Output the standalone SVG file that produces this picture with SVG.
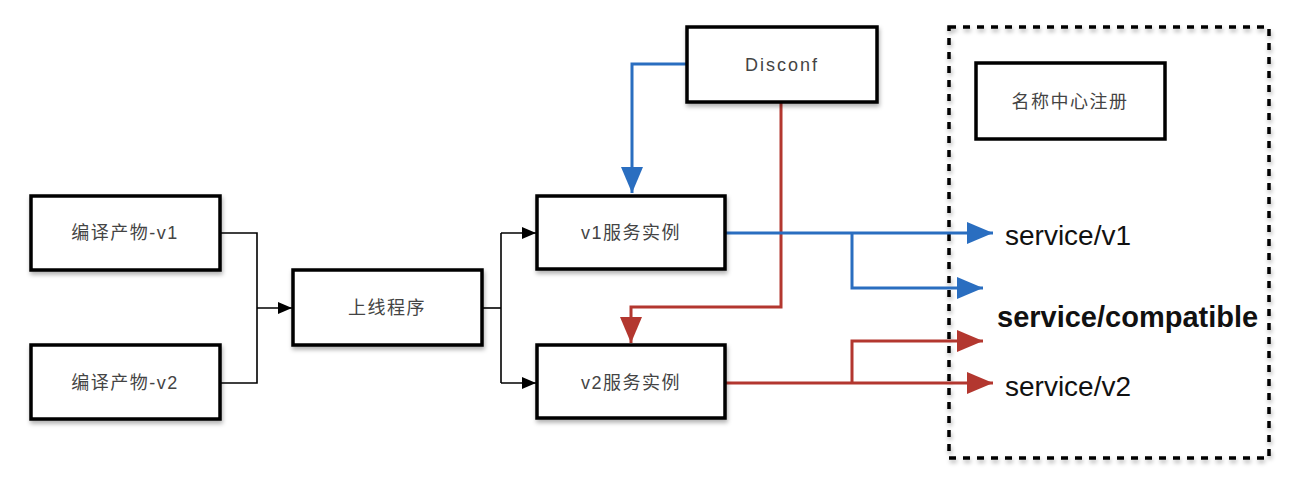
<svg xmlns="http://www.w3.org/2000/svg" width="1300" height="493" viewBox="0 0 1300 493">
<style>
.box{fill:#fff;stroke:#000;stroke-width:3.5;filter:url(#sh)}
.lbl{font-family:"Liberation Sans","Noto Sans CJK SC",sans-serif;font-size:18px;letter-spacing:1.5px;fill:#444;text-anchor:middle;dominant-baseline:central}
.blk{fill:none;stroke:#000;stroke-width:1.6}
.blue{fill:none;stroke:#2A6EC0;stroke-width:3}
.red{fill:none;stroke:#B3372F;stroke-width:3}
.svc{font-family:"Liberation Sans",Arial,sans-serif;font-size:28px;fill:#111}
.cmp{font-size:29px;font-weight:bold}
</style>
<defs>
<filter id="sh" x="-10%" y="-10%" width="130%" height="140%">
<feDropShadow dx="1" dy="3" stdDeviation="2" flood-color="#000" flood-opacity="0.3"/>
</filter>
<marker id="ak" markerUnits="userSpaceOnUse" markerWidth="16" markerHeight="14" refX="14" refY="6" orient="auto">
<path d="M0,0 L14,6 L0,12 Z" fill="#000"/>
</marker>
<marker id="ab" markerUnits="userSpaceOnUse" markerWidth="28" markerHeight="24" refX="26" refY="11" orient="auto">
<path d="M0,0 L26,11 L0,22 Z" fill="#2A6EC0"/>
</marker>
<marker id="ar" markerUnits="userSpaceOnUse" markerWidth="28" markerHeight="24" refX="26" refY="11" orient="auto">
<path d="M0,0 L26,11 L0,22 Z" fill="#B3372F"/>
</marker>
</defs>

<g id="registry">
<rect x="949" y="27" width="320" height="431" fill="none" stroke="#000" stroke-width="3.5" stroke-dasharray="7 7" filter="url(#sh)"/>
</g>

<g id="connectors">
<path class="blk" d="M220,233 H257 V383 H220"/>
<path class="blk" d="M257,308 H292" marker-end="url(#ak)"/>
<path class="blk" d="M482,308 H501"/>
<path class="blk" d="M501,233 V383"/>
<path class="blk" d="M501,233 H536" marker-end="url(#ak)"/>
<path class="blk" d="M501,383 H536" marker-end="url(#ak)"/>
<path class="blue" d="M687,64 H632 V193" marker-end="url(#ab)"/>
<path class="red" d="M781,102 V307 H631 V343" marker-end="url(#ar)"/>
<path class="blue" d="M725,233 H993" marker-end="url(#ab)"/>
<path class="blue" d="M852,233 V288 H983" marker-end="url(#ab)"/>
<path class="red" d="M725,383 H993" marker-end="url(#ar)"/>
<path class="red" d="M852,383 V341 H983" marker-end="url(#ar)"/>
</g>

<g id="n1"><rect class="box" x="31" y="196" width="189" height="74"/><text class="lbl" x="125" y="233">编译产物-v1</text></g>
<g id="n2"><rect class="box" x="31" y="345" width="189" height="74"/><text class="lbl" x="125" y="383">编译产物-v2</text></g>
<g id="n3"><rect class="box" x="293" y="270" width="189" height="75"/><text class="lbl" x="387" y="308">上线程序</text></g>
<g id="n4"><rect class="box" x="537" y="196" width="188" height="73"/><text class="lbl" x="631" y="233">v1服务实例</text></g>
<g id="n5"><rect class="box" x="537" y="345" width="188" height="73"/><text class="lbl" x="631" y="383">v2服务实例</text></g>
<g id="n6"><rect class="box" x="687" y="27" width="190" height="75"/><text class="lbl" x="782" y="65" style="letter-spacing:2px">Disconf</text></g>
<g id="n7"><rect x="976" y="63" width="189" height="76" fill="#fff" stroke="#000" stroke-width="3.5"/><text class="lbl" x="1070" y="102">名称中心注册</text></g>

<g id="labels">
<text class="svc" x="1005" y="245">service/v1</text>
<text class="svc cmp" x="997" y="327">service/compatible</text>
<text class="svc" x="1005" y="396">service/v2</text>
</g>
</svg>
